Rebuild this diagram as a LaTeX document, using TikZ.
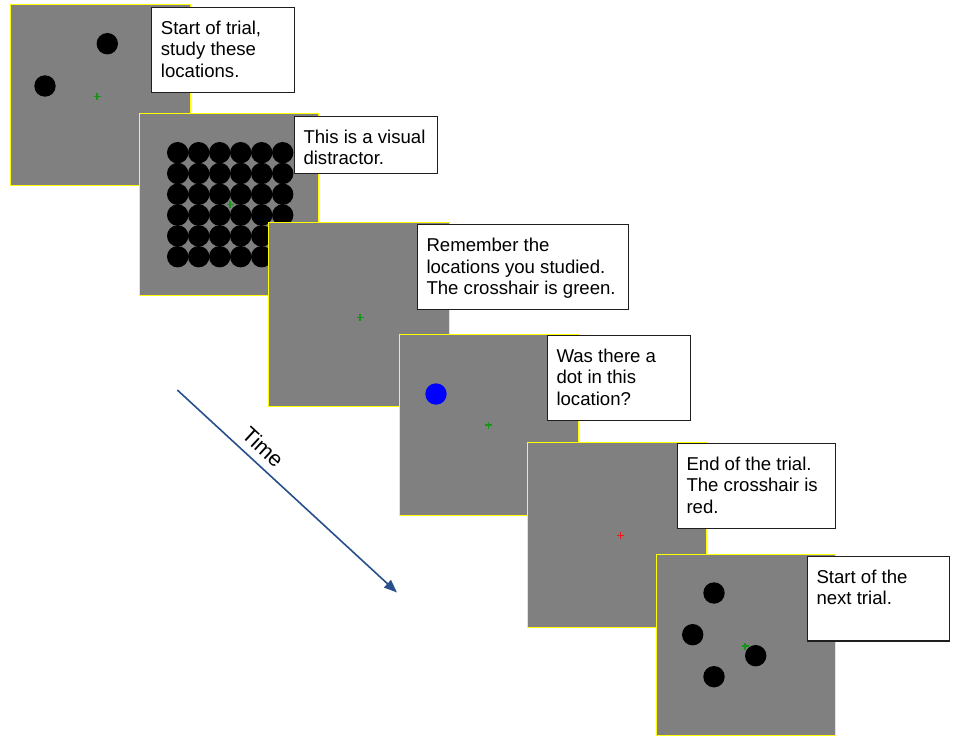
\documentclass[tikz,border=0pt]{standalone}
\usepackage{fontspec}
\setmainfont{Liberation Sans}
\usetikzlibrary{calc,arrows.meta}
\definecolor{panelgray}{RGB}{128,128,128}
\definecolor{paneledge}{RGB}{255,255,0}
\definecolor{crossgreen}{RGB}{20,150,20}
\definecolor{crossred}{RGB}{250,20,20}
\definecolor{timeblue}{RGB}{40,80,140}
\definecolor{boxedge}{RGB}{30,30,30}
\tikzset{
  panel/.style={draw=paneledge, line width=1pt, fill=panelgray, anchor=north west,
    inner sep=0pt, outer sep=0pt},
  textbox/.style={draw=boxedge, line width=1.2pt, fill=white, anchor=north west,
    inner sep=0pt, outer sep=0pt},
  caption/.style={anchor=north west, inner sep=0pt, outer sep=0pt, align=left,
    font={\fontsize{18.6}{21.7}\selectfont}},
  dot/.style={fill=black},
  crossg/.style={draw=crossgreen, line width=1.1pt},
  crossr/.style={draw=crossred, line width=1.2pt},
}
\newcommand{\crosshair}[2]{\draw[#2] ($(#1)+(-3.5,0)$) -- ($(#1)+(3.5,0)$) ($(#1)+(0,-3.5)$) -- ($(#1)+(0,3.5)$);}
\begin{document}
\begin{tikzpicture}[x=1pt,y=-1pt]
\useasboundingbox (0,0) rectangle (959,746);
\fill[white] (0,0) rectangle (959,746);

% ---- panel 1
\node[panel, minimum width=180, minimum height=181] (p1) at (10,5) {};
\fill[dot] (107.3,43.7) circle (10.7);
\fill[dot] (45,86) circle (10.7);
\coordinate (c1) at (97,96.7);
\crosshair{c1}{crossg}
\node[textbox, minimum width=142.6, minimum height=85] (b1) at (151.7,7.3) {};
\node[caption] (t1) at ($(b1.north west)+(9.2,13.4)$) {Start of trial,\\study these\\locations.};

% ---- panel 2
\node[panel, minimum width=179, minimum height=182] (p2) at (139.3,113.3) {};
\foreach \i in {0,...,5}{
  \foreach \j in {0,...,5}{
    \fill[dot] ({177.7+21*\i},{152.7+20.8*\j}) circle (10.7);
  }
}
\coordinate (c2) at (230,204.7);
\crosshair{c2}{crossg}
\node[textbox, minimum width=143, minimum height=57] (b2) at (294.3,116.3) {};
\node[caption] (t2) at ($(b2.north west)+(9.2,13.4)$) {This is a visual\\distractor.};

% ---- panel 3
\node[panel, minimum width=180.7, minimum height=184.4] (p3) at (268.3,222.3) {};
\coordinate (c3) at (360,317.7);
\crosshair{c3}{crossg}
\node[textbox, minimum width=211, minimum height=84.6] (b3) at (417.3,224.7) {};
\node[caption] (t3) at ($(b3.north west)+(9.2,13.4)$) {Remember the\\locations you studied.\\The crosshair is green.};

% ---- panel 4
\node[panel, minimum width=179, minimum height=181] (p4) at (399.3,334.3) {};
\fill[blue] (436,394) circle (10.7);
\coordinate (c4) at (488.3,425);
\crosshair{c4}{crossg}
\node[textbox, minimum width=143.4, minimum height=85] (b4) at (547.3,335.3) {};
\node[caption] (t4) at ($(b4.north west)+(9.2,13.4)$) {Was there a\\dot in this\\location?};

% ---- panel 5
\node[panel, minimum width=179, minimum height=185] (p5) at (527.7,442.3) {};
\coordinate (c5) at (620.7,535.5);
\crosshair{c5}{crossr}
\node[textbox, minimum width=158.4, minimum height=85] (b5) at (677.3,443.3) {};
\node[caption] (t5) at ($(b5.north west)+(9.2,13.4)$) {End of the trial.\\The crosshair is\\red.};

% ---- panel 6
\node[panel, minimum width=179, minimum height=180.5] (p6) at (656.7,554.5) {};
\coordinate (c6) at (745,646);
\crosshair{c6}{crossg}
\fill[dot] (714,593) circle (10.7);
\fill[dot] (692.7,634.7) circle (10.7);
\fill[dot] (755.7,655.7) circle (10.7);
\fill[dot] (714,676.7) circle (10.7);
\node[textbox, minimum width=142, minimum height=84.7] (b6) at (807.3,556.3) {};
\node[caption] (t6) at ($(b6.north west)+(9.2,13.4)$) {Start of the\\next trial.};

% ---- time arrow
\coordinate (tstart) at (177.3,390);
\coordinate (tend) at (397,592.5);
\draw[timeblue, line width=1.6pt, -{Triangle[length=13pt,width=10pt]}] (tstart) -- (tend);
\node[rotate=-42.6, inner sep=0pt, font={\fontsize{21.5}{25}\selectfont}] (time) at (263,447) {Time};
\end{tikzpicture}
\end{document}
